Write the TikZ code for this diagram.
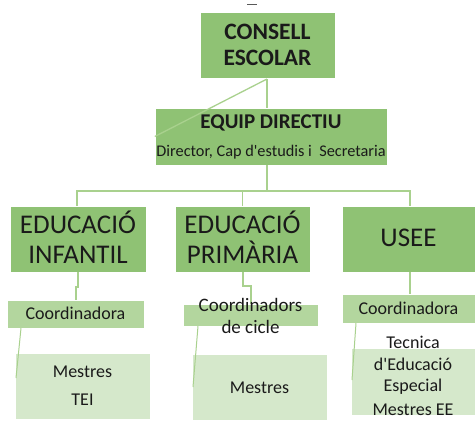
\documentclass[tikz,border=0pt]{standalone}
\usepackage{fontspec}
\setmainfont{Carlito}
\definecolor{midgreen}{HTML}{8FC274}
\definecolor{coordgreen}{HTML}{B3D69E}
\definecolor{palegreen}{HTML}{D5E8CB}
\definecolor{linegreen}{HTML}{A9D18E}
\definecolor{txt}{HTML}{1A1A1A}
\newcommand{\apos}{\textquotesingle}
\tikzset{
  box/.style={draw=white, line width=0.4pt, inner sep=0pt, minimum width=#1},
  bigbox/.style={box=135pt, fill=midgreen, minimum height=66pt},
  coordbox/.style={box=135pt, fill=coordgreen},
  staffbox/.style={box=135pt, fill=palegreen, minimum height=66pt},
  lbl/.style={text=txt, align=center, inner sep=0pt},
  conn/.style={draw=linegreen, line width=1.3pt},
}
\begin{document}
\begin{tikzpicture}[x=1pt,y=-1pt]
\useasboundingbox (0,0) rectangle (475,421);
\fill[white] (0,0) rectangle (475,421);
% small mark at top
\draw[gray!70!black, line width=1pt] (247,4) -- (257,4);

% boxes
\node[bigbox] (consell) at (267.5,45) {};
\node[box=232pt, fill=midgreen, minimum height=57pt] (equip) at (271,136.5) {};
\node[bigbox, minimum width=136pt] (inf) at (78,239) {};
\node[bigbox] (prim) at (242.5,239) {};
\node[bigbox, minimum width=133pt] (usee) at (408.5,239) {};
\node[coordbox, minimum width=137pt, minimum height=28pt] (cinf) at (75.5,314) {};
\node[coordbox, minimum height=22pt] (cprim) at (250.5,315) {};
\node[coordbox, minimum width=133pt, minimum height=29pt] (cusee) at (408.5,308.5) {};
\node[staffbox] (minf) at (82.5,386) {};
\node[staffbox] (mprim) at (259.5,387) {};
\node[staffbox, minimum width=124pt, minimum height=67pt] (musee) at (413,381.5) {};

% connectors
\coordinate (top) at (267,79);
\coordinate (bus) at (267,191);
\draw[conn] (top) -- (top |- equip.north);
\draw[conn] (top) -- (equip.west);
\draw[conn] (equip.south -| bus) -- (bus);
\draw[conn] (inf.north -| 77,0) -- (77,191) -- (410,191) -- (usee.north -| 410,0);
\draw[conn] (prim.north) -- (prim.north |- bus);
\draw[conn] (inf.south -| 78,0) -- (78,287) -- (76,287) -- (cinf.north -| 76,0);
\draw[conn] (prim.south -| 243,0) -- (243,286) -- (251,286) -- (cprim.north -| 251,0);
\draw[conn] (usee.south -| 410,0) -- (cusee.north -| 410,0);
\draw[conn, line width=1pt] (cinf.south -| 21,0) -- (16,378);
\draw[conn, line width=1pt] (cprim.south -| 198,0) -- (193,387);
\draw[conn, line width=1pt] (cusee.south -| 356,0) -- (352,380);

% labels
\node[lbl, font=\fontsize{23.5}{25.5}\selectfont\bfseries] (tconsell) at (consell) {CONSELL\\ESCOLAR};
\node[lbl, font=\fontsize{21}{24}\selectfont\bfseries] (tequip) at (271,123) {EQUIP DIRECTIU};
\node[lbl, font=\fontsize{16.3}{18}\selectfont] (tequip2) at (271,152) {Director, Cap d\apos estudis i\ \ Secretaria};
\node[lbl, font=\fontsize{27}{30}\selectfont] (tinf) at (78,237) {EDUCACIÓ\\INFANTIL};
\node[lbl, font=\fontsize{27}{30}\selectfont] (tprim) at (242.5,237) {EDUCACIÓ\\PRIMÀRIA};
\node[lbl, font=\fontsize{27}{30}\selectfont] (tusee) at (408.5,238) {USEE};
\node[lbl, font=\fontsize{18}{22}\selectfont] (tcinf) at (75.5,313) {Coordinadora};
\node[lbl, font=\fontsize{19}{22}\selectfont] (tcprim) at (250.5,316) {Coordinadors\\de cicle};
\node[lbl, font=\fontsize{18}{22}\selectfont] (tcusee) at (408.5,308) {Coordinadora};
\node[lbl, font=\fontsize{18}{28}\selectfont] (tminf) at (82.5,386) {Mestres\\TEI};
\node[lbl, font=\fontsize{18}{22}\selectfont] (tmprim) at (259.5,388) {Mestres};
\node[lbl, font=\fontsize{18}{21.5}\selectfont] (tmusee) at (413,365.5) {Tecnica\\d\apos Educació\\Especial};
\node[lbl, font=\fontsize{18}{22}\selectfont] (tmusee2) at (413,410) {Mestres EE};
\end{tikzpicture}
\end{document}
